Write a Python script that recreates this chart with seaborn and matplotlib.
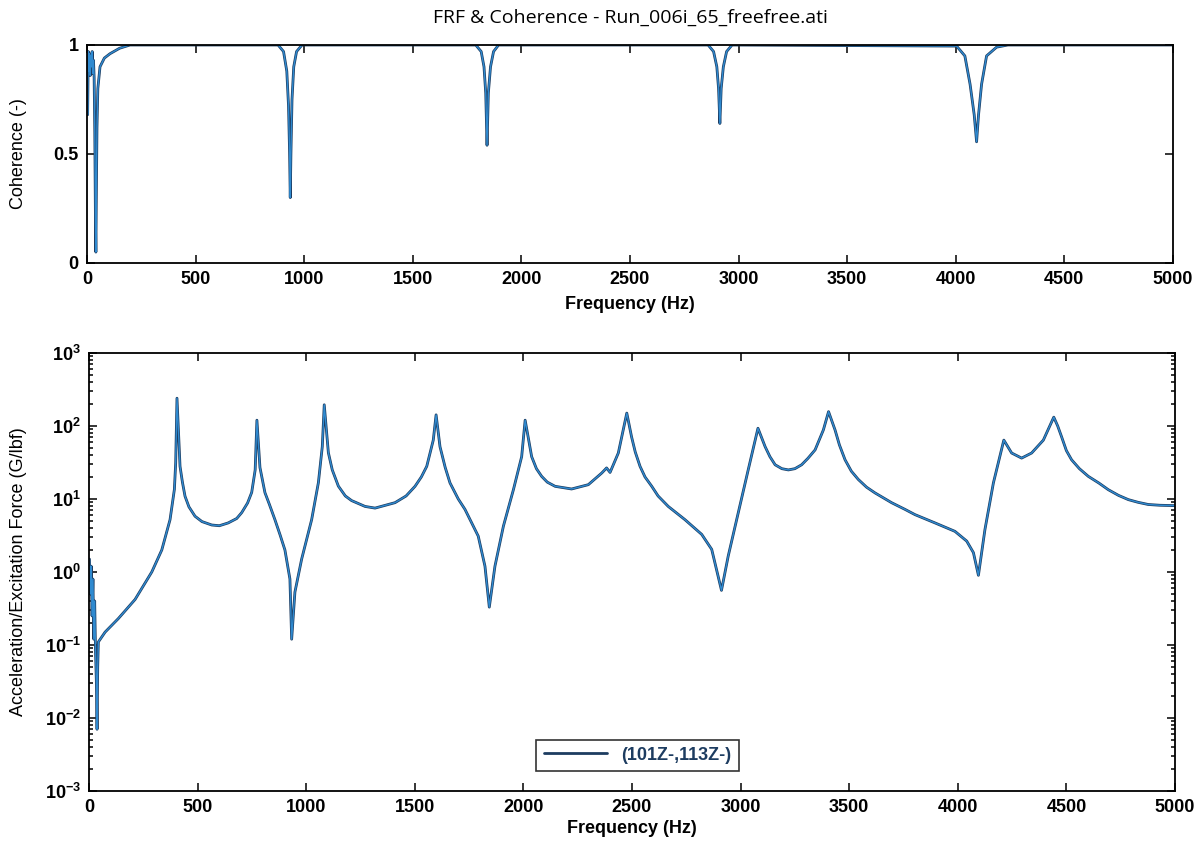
import numpy as np
import pandas as pd
import matplotlib
matplotlib.use("Agg")
import matplotlib.pyplot as plt
import seaborn as sns
from matplotlib.ticker import LogLocator, NullFormatter, FixedLocator

# ---------------- data ----------------
coh_freq = [0, 3, 6, 9, 12, 15, 18, 21, 24, 27, 30, 33, 36, 39, 41, 43, 46, 50, 60, 80,
            106, 150, 198,
            880, 905, 920, 928, 933, 936, 939, 944, 952, 965, 990,
            1790, 1815, 1828, 1836, 1842, 1848, 1858, 1872, 1895,
            2860, 2885, 2900, 2908, 2914, 2920, 2930, 2945, 2970,
            4004, 4042, 4066, 4085, 4096, 4105, 4119, 4142, 4188, 4240, 5000]
coh_vals = [0.95, 0.68, 0.97, 0.88, 0.96, 0.86, 0.95, 0.90, 0.97, 0.87, 0.93, 0.85, 0.60, 0.20,
            0.05, 0.30, 0.62, 0.80, 0.90, 0.94,
            0.96, 0.985, 1.0,
            1.0, 0.97, 0.88, 0.72, 0.50, 0.30, 0.50, 0.75, 0.90, 0.97, 1.0,
            1.0, 0.97, 0.90, 0.78, 0.54, 0.78, 0.90, 0.97, 1.0,
            1.0, 0.97, 0.90, 0.80, 0.64, 0.80, 0.90, 0.97, 1.0,
            0.995, 0.95, 0.82, 0.68, 0.556, 0.68, 0.82, 0.95, 0.99, 1.0, 1.0]

frf_freq = [2, 6, 10, 14, 18, 22, 26, 30, 34, 37, 40, 43, 74, 135, 212, 289, 335, 373, 393, 399,
            405, 419, 430, 442, 460, 488, 520, 565, 600, 641, 680, 703, 730, 749, 765, 773,
            787, 810, 830, 856, 880, 902, 925, 933,
            948, 979, 1025, 1056, 1074, 1083, 1102, 1120, 1148, 1180, 1209, 1271, 1317, 1409,
            1460, 1501, 1530, 1555,
            1585, 1598, 1616, 1640, 1662, 1700, 1731, 1792, 1823, 1843, 1869, 1908, 1954, 1992,
            2008, 2038, 2060,
            2084, 2110, 2146, 2222, 2299, 2361, 2383, 2399, 2437, 2476, 2498, 2515, 2537, 2560,
            2591, 2620, 2667, 2744,
            2821, 2867, 2912, 2943, 2989, 3035, 3080, 3113, 3135, 3159, 3190, 3220, 3250, 3281,
            3310, 3343, 3381, 3405,
            3435, 3455, 3481, 3510, 3542, 3580, 3619, 3695, 3757, 3803, 3895, 3987, 4041, 4072,
            4095, 4125, 4164,
            4212, 4248, 4294, 4340, 4394, 4442, 4460, 4478, 4500, 4524, 4560, 4601, 4650, 4693,
            4740, 4785, 4830, 4877, 4930, 4985, 5000]
frf_vals = [1.5, 0.5, 1.2, 0.25, 0.8, 0.12, 0.4, 0.08, 0.03, 0.007, 0.05, 0.11, 0.15, 0.23, 0.42,
            1.0, 2.0, 5.2, 13.5, 31,
            240, 28, 17, 10.9, 7.8, 5.8, 4.9, 4.4, 4.3, 4.7, 5.4, 6.5, 8.8, 12.3, 25, 120,
            27, 12.2, 8.5, 5.2, 3.2, 2.0, 0.8, 0.12,
            0.53, 1.5, 5.2, 16.7, 52, 195, 43, 25, 15, 11, 9.5, 7.9, 7.5, 8.9,
            11, 14.9, 20, 28,
            64, 142, 52, 27, 16.6, 10, 7.2, 3.1, 1.2, 0.33, 1.2, 4.25, 13.4, 38,
            120, 38, 26,
            20.4, 17, 14.9, 13.7, 15.7, 22.7, 26.6, 23.1, 42.6, 150, 71, 44, 28, 20,
            14.9, 11, 7.9, 5.2,
            3.27, 2.04, 0.56, 1.65, 6.45, 25, 93, 52, 38, 29.4, 26, 25, 26, 29.4,
            36, 47, 88, 157,
            88, 55, 34.4, 24, 18.5, 14.5, 12.1, 8.9, 7.2, 6.1, 4.7, 3.6, 2.65, 1.84,
            0.9, 3.8, 16.6,
            64, 42.6, 36.3, 42.6, 64, 132, 100, 71, 46, 34.4, 26, 20.4, 16.5, 13.4,
            11.2, 9.8, 9.0, 8.4, 8.2, 8.1, 8.1]

x_ticks = [0, 500, 1000, 1500, 2000, 2500, 3000, 3500, 4000, 4500, 5000]
coh_ticks = [0, 0.5, 1]
coh_tick_labels = ["0", "0.5", "1"]
frf_ticks = [1e-3, 1e-2, 1e-1, 1e0, 1e1, 1e2, 1e3]
frf_tick_labels = [r"$\mathbf{10^{-3}}$", r"$\mathbf{10^{-2}}$", r"$\mathbf{10^{-1}}$",
                   r"$\mathbf{10^{0}}$", r"$\mathbf{10^{1}}$", r"$\mathbf{10^{2}}$",
                   r"$\mathbf{10^{3}}$"]
legend_label = "(101Z-,113Z-)"
title = "FRF & Coherence - Run_006i_65_freefree.ati"

coh_df = pd.DataFrame({"freq": coh_freq, "coh": coh_vals})
frf_df = pd.DataFrame({"freq": frf_freq, "frf": frf_vals})

# ---------------- style ----------------
sns.set_style("ticks")
plt.rcParams["font.family"] = ["Liberation Sans", "DejaVu Sans"]
plt.rcParams["mathtext.fontset"] = "custom"
plt.rcParams["mathtext.rm"] = "Liberation Sans"
plt.rcParams["mathtext.bf"] = "Liberation Sans:bold"
plt.rcParams["text.color"] = "black"
plt.rcParams["axes.labelcolor"] = "black"
plt.rcParams["xtick.color"] = "black"
plt.rcParams["ytick.color"] = "black"

DARK = "#1d3c60"
LIGHT = "#2f8ad0"

fig = plt.figure(figsize=(12.03, 8.41), dpi=100)
ax1 = fig.add_axes([0.0723, 0.6873, 0.9027, 0.2592])
ax2 = fig.add_axes([0.0740, 0.0595, 0.9027, 0.5208])

for ax in (ax1, ax2):
    for s in ax.spines.values():
        s.set_color("black")
        s.set_linewidth(1.3)
    ax.tick_params(which="both", direction="in", top=True, right=True,
                   color="black", labelcolor="black", labelsize=13, width=1.1)
    ax.tick_params(which="major", length=6, pad=6)
    ax.tick_params(which="minor", length=3)

# ---- coherence ----
sns.lineplot(data=coh_df, x="freq", y="coh", ax=ax1, color=DARK, linewidth=2.0, sort=False)
sns.lineplot(data=coh_df, x="freq", y="coh", ax=ax1, color=LIGHT, linewidth=1.0, sort=False)
ax1.set_xlim(0, 5000)
ax1.set_ylim(0, 1)
ax1.set_xticks(x_ticks)
ax1.set_xticklabels([str(t) for t in x_ticks], fontweight="bold")
ax1.set_yticks(coh_ticks)
ax1.set_yticklabels(coh_tick_labels, fontweight="bold")
ax1.set_xlabel("Frequency (Hz)", fontsize=13, fontweight="bold")
ax1.set_ylabel("Coherence (-)", fontsize=13)
ax1.yaxis.set_label_coords(-0.055, 0.5)
ax1.xaxis.set_label_coords(0.5, -0.15)
ax1.set_title(title, fontsize=14, family=["Open Sans", "DejaVu Sans"], pad=16)

# ---- FRF ----
sns.lineplot(data=frf_df, x="freq", y="frf", ax=ax2, color=DARK, linewidth=2.0,
             sort=False, label=legend_label)
sns.lineplot(data=frf_df, x="freq", y="frf", ax=ax2, color=LIGHT, linewidth=1.0, sort=False)
ax2.set_yscale("log")
ax2.set_xlim(0, 5000)
ax2.set_ylim(1e-3, 1e3)
ax2.set_xticks(x_ticks)
ax2.set_xticklabels([str(t) for t in x_ticks], fontweight="bold")
ax2.yaxis.set_major_locator(FixedLocator(frf_ticks))
ax2.set_yticklabels(frf_tick_labels)
ax2.yaxis.set_minor_locator(LogLocator(base=10, subs=np.arange(2, 10), numticks=20))
ax2.yaxis.set_minor_formatter(NullFormatter())
ax2.set_xlabel("Frequency (Hz)", fontsize=13, fontweight="bold")
ax2.set_ylabel("Acceleration/Excitation Force (G/lbf)", fontsize=13)
ax2.yaxis.set_label_coords(-0.057, 0.5)
ax2.xaxis.set_label_coords(0.5, -0.066)

leg = ax2.legend(loc="lower center", bbox_to_anchor=(0.505, 0.025), frameon=True,
                 fancybox=False, edgecolor="black", fontsize=13, handlelength=3.5,
                 borderpad=0.4)
leg.get_frame().set_linewidth(1.2)
for t in leg.get_texts():
    t.set_color(DARK)
    t.set_fontweight("bold")

fig.savefig("out.png", dpi=100, facecolor="white")
